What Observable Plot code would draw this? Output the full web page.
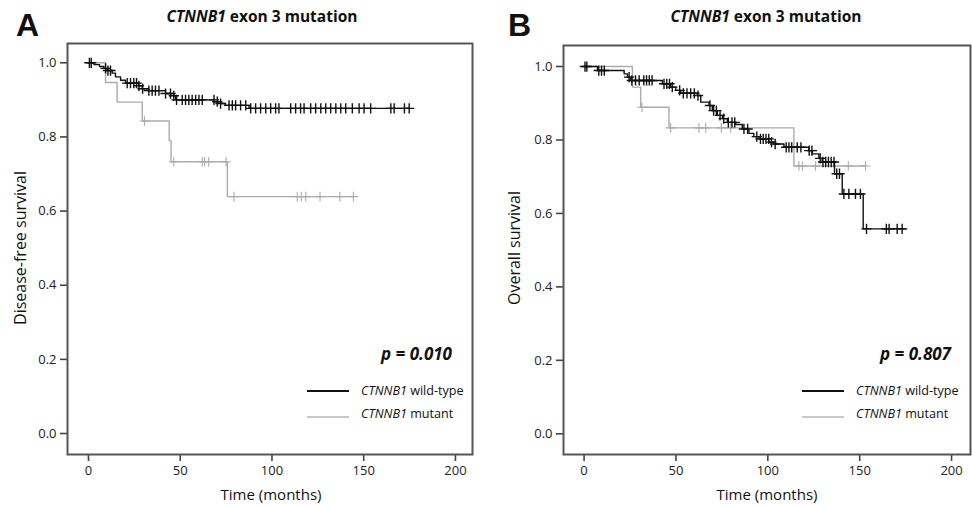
<!DOCTYPE html>
<html><head><meta charset="utf-8">
<script src="https://cdn.jsdelivr.net/npm/d3@7"></script>
<script src="https://cdn.jsdelivr.net/npm/@observablehq/plot@0.6"></script>
<style>
  html,body{margin:0;padding:0;background:#fff;}
  #wrap{position:relative;width:972px;height:506px;font-family:"Open Sans",Lato,sans-serif;color:#111;overflow:hidden;}
  .panel{position:absolute;top:0;}
  .txt{position:absolute;white-space:nowrap;line-height:1;}
  .letter{font-family:"Liberation Sans",Arial,sans-serif;font-weight:bold;font-size:32px;}
  .title{font-weight:bold;font-size:15.5px;transform:translate(-50%,-50%);}
  .ylab{font-size:16px;transform:translate(-50%,-50%) rotate(-90deg);}
  .xlab{font-size:15px;transform:translate(-50%,-50%);}
  .pval{font-weight:bold;font-style:italic;font-size:17px;transform:translate(-100%,-50%);}
  .leg{font-size:12.6px;transform:translate(0,-50%);}
  .legline{position:absolute;height:0;}
</style>
</head><body>
<div id="wrap"></div>
<script>
// ---------- Data ----------
// Panel A: disease-free survival
const A_wt_eventTimes = [3, 6, 8.4, 10.2, 12.9, 14.7, 17.5, 20.2, 27.4, 29.3, 32.9, 42, 46.5, 47.5, 68.5, 72, 74.7, 87.5];
const A_wt_eventSurv  = [0.995, 0.99, 0.985, 0.979, 0.972, 0.962, 0.953, 0.945, 0.938, 0.93, 0.925, 0.917, 0.911, 0.9, 0.895, 0.89, 0.885, 0.877];
const A_wt_censor = [0.5, 1.5, 9.3, 10.6, 12, 21.1, 22.9, 24.7, 26.2, 27.5, 29.5, 32.9, 34.7, 36.5, 38.4, 42, 44.7, 46.5, 48,
  51.1, 52.9, 54.7, 56.5, 58.4, 60.2, 62, 68.4, 70.2, 72, 76.6, 78.4, 80.2, 82.9, 85.7, 88.4, 91.1, 93.8, 96.6, 99.3, 102, 103.8,
  110.2, 112.9, 115.6, 117.5, 121.1, 123.8, 126.6, 129.3, 132, 134.8, 137.5, 140.2, 143.8, 147.5, 150.2, 153.8, 164.8, 166.6, 172.2, 174.8];
const A_mut_eventTimes = [9.3, 15.6, 29.3, 44, 45, 75.7];
const A_mut_eventSurv  = [0.947, 0.894, 0.843, 0.79, 0.733, 0.639];
const A_mut_censor = [30.5, 46.5, 62, 63.3, 65.5, 75, 79.3, 113.8, 116, 118.4, 126.2, 137, 144.4];

// Panel B: overall survival
const B_wt_eventTimes = [7.3, 21.8, 23.6, 25.4, 42.6, 47.1, 49.9, 52.6, 61.7, 63.5, 68, 69.8, 72.5, 75.3, 78, 82.5, 86.1, 89.7,
  92.4, 95.2, 100.6, 103.3, 108.8, 122.3, 124.2, 127.8, 129.6, 136.3, 140.5, 151.9];
const B_wt_eventSurv  = [0.989, 0.98, 0.971, 0.962, 0.953, 0.944, 0.935, 0.927, 0.921, 0.903, 0.894, 0.88, 0.867, 0.858, 0.848,
  0.842, 0.83, 0.818, 0.809, 0.803, 0.794, 0.789, 0.78, 0.771, 0.762, 0.75, 0.74, 0.708, 0.653, 0.558];
const B_wt_censor = [0.5, 1.5, 8, 9.5, 11, 24.5, 26, 28, 30, 32.5, 34, 35.5, 37, 43.5, 45, 46.5, 48, 52, 54, 56, 58, 60, 62,
  68.5, 70.5, 72, 74, 76, 78.5, 80.5, 82, 87, 89, 94, 96, 97.5, 99, 100.5, 102, 104, 110, 111.5, 113, 116, 118, 122.5, 124,
  128.5, 130, 131.5, 133, 134.5, 136, 137.5, 139, 141.4, 144.1, 147.7, 150.4, 153.7, 164.5, 166, 170.4, 173.1];
const B_mut_eventTimes = [26.3, 30.8, 46.2, 114.2];
const B_mut_eventSurv  = [0.944, 0.889, 0.833, 0.729];
const B_mut_censor = [31.5, 47.1, 62.5, 66.2, 74.7, 79.8, 116.9, 118.8, 126, 143.8, 153.2];

const xTicks = [0, 50, 100, 150, 200];
const yTicks = [0, 0.2, 0.4, 0.6, 0.8, 1.0];
const titleItalic = "CTNNB1";
const titleRest = " exon 3 mutation";
const legendLabels = [["CTNNB1", " wild-type"], ["CTNNB1", " mutant"]];
const panels = [
  {letter: "A", ylabel: "Disease-free survival", p: "p = 0.010"},
  {letter: "B", ylabel: "Overall survival", p: "p = 0.807"}
];

// ---------- helpers ----------
function curve(times, surv, end) {
  const pts = [{t: 0, s: 1}];
  times.forEach((t, i) => pts.push({t, s: surv[i]}));
  pts.push({t: end, s: surv[surv.length - 1]});
  return pts;
}
function lookup(times, surv, t) {
  let s = 1;
  for (let i = 0; i < times.length; i++) if (times[i] <= t) s = surv[i];
  return s;
}
function censors(times, surv, cens) {
  return cens.map(t => ({t, s: lookup(times, surv, t)}));
}

const WT = "#111", MUT = "#ababab", FONT = "'Open Sans', Lato, sans-serif";

function makePanel(cfg) {
  return Plot.plot({
    width: 486, height: 506,
    marginLeft: cfg.ml, marginRight: cfg.mr, marginTop: cfg.mt, marginBottom: cfg.mb,
    style: {fontFamily: FONT, fontSize: "13px", color: "#222", background: "transparent"},
    x: {domain: cfg.xd},
    y: {domain: cfg.yd},
    marks: [
      Plot.axisX({ticks: xTicks, tickSize: 7, tickPadding: 4, label: null, stroke: "#444", strokeWidth: 1.6, fontSize: 13}),
      Plot.axisY({ticks: yTicks, tickSize: 7, tickPadding: 4, label: null, tickFormat: d3.format(".1f"), stroke: "#444", strokeWidth: 1.6, fontSize: 13}),
      Plot.line(curve(cfg.mt_t, cfg.mt_s, cfg.mt_end), {x: "t", y: "s", curve: "step-after", stroke: MUT, strokeWidth: 1.4}),
      Plot.dot(censors(cfg.mt_t, cfg.mt_s, cfg.mt_c), {x: "t", y: "s", symbol: "plus", r: 3.2, stroke: MUT, strokeWidth: 1.1}),
      Plot.line(curve(cfg.wt_t, cfg.wt_s, cfg.wt_end), {x: "t", y: "s", curve: "step-after", stroke: WT, strokeWidth: 1.4}),
      Plot.dot(censors(cfg.wt_t, cfg.wt_s, cfg.wt_c), {x: "t", y: "s", symbol: "plus", r: 3.4, stroke: WT, strokeWidth: 1.4}),
      Plot.frame({stroke: "#555", strokeWidth: 2})
    ]
  });
}

const wrap = document.getElementById("wrap");
const cfgs = [
  {left: 0, ml: 67, mr: 14, mt: 43, mb: 52, xd: [-11.44, 209.3], yd: [-0.0566, 1.052],
   wt_t: A_wt_eventTimes, wt_s: A_wt_eventSurv, wt_c: A_wt_censor, wt_end: 174.8,
   mt_t: A_mut_eventTimes, mt_s: A_mut_eventSurv, mt_c: A_mut_censor, mt_end: 144.4,
   lx: 16, ly: 22, tx: 262, ylx: 20, xlx: 271, px: 452, legx: 307},
  {left: 486, ml: 77, mr: 2, mt: 45, mb: 52, xd: [-11.2, 210.3], yd: [-0.0564, 1.0572],
   wt_t: B_wt_eventTimes, wt_s: B_wt_eventSurv, wt_c: B_wt_censor, wt_end: 174.9,
   mt_t: B_mut_eventTimes, mt_s: B_mut_eventSurv, mt_c: B_mut_censor, mt_end: 153.2,
   lx: 508, ly: 22, tx: 766, ylx: 514, xlx: 767, px: 951, legx: 802}
];

function addText(cls, html, x, y) {
  const d = document.createElement("div");
  d.className = "txt " + cls;
  d.innerHTML = html;
  d.style.left = x + "px"; d.style.top = y + "px";
  wrap.appendChild(d);
  return d;
}

cfgs.forEach((c, i) => {
  const svg = makePanel(c);
  const holder = document.createElement("div");
  holder.className = "panel";
  holder.style.left = c.left + "px";
  holder.appendChild(svg);
  wrap.appendChild(holder);
  const p = panels[i];
  addText("letter", p.letter, c.lx, 9);
  addText("title", `<i>${titleItalic}</i>${titleRest}`, c.tx, 17);
  addText("ylab", p.ylabel, c.ylx, 248);
  addText("xlab", "Time (months)", c.xlx, 494);
  addText("pval", p.p, c.px, 353);
  [[WT, 390.5], [MUT, 417]].forEach(([col, y], k) => {
    const ln = document.createElement("div");
    ln.className = "legline";
    ln.style.left = c.legx + "px"; ln.style.top = (y - 1) + "px"; ln.style.width = "42px";
    ln.style.borderTop = "2px solid " + (k === 0 ? "#111" : "#c8c8c8");
    wrap.appendChild(ln);
    addText("leg", `<i>${legendLabels[k][0]}</i>${legendLabels[k][1]}`, c.legx + 54, y - (k === 1 ? 3 : 0));
  });
});
</script>
</body></html>
